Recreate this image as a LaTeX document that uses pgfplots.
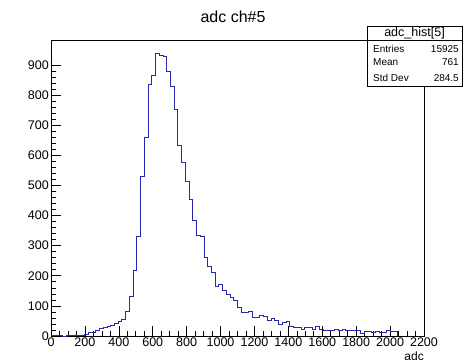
\documentclass[border=0pt]{standalone}
\usepackage{fontspec}
\setmainfont{Liberation Sans}
\usepackage{pgfplots}
\usepackage{pgfplotstable}
\pgfplotsset{compat=1.18}
\definecolor{histblue}{RGB}{40,40,180}
\pgfplotstableread{
x y
0 1
22 2
44 1
66 0
88 2
110 1
132 3
154 2
176 3
198 5
220 11
242 12
264 20
286 26
308 29
330 31
352 34
374 42
396 48
418 55
440 81
462 133
484 219
506 330
528 531
550 659
572 834
594 867
616 939
638 933
660 930
682 878
704 830
726 754
748 632
770 576
792 513
814 454
836 383
858 335
880 330
902 261
924 230
946 211
968 164
990 173
1012 151
1034 139
1056 128
1078 117
1100 95
1122 80
1144 78
1166 82
1188 62
1210 62
1232 70
1254 66
1276 53
1298 57
1320 51
1342 37
1364 45
1386 49
1408 31
1430 29
1452 29
1474 23
1496 29
1518 29
1540 23
1562 33
1584 22
1606 18
1628 20
1650 19
1672 21
1694 18
1716 22
1738 18
1760 20
1782 20
1804 19
1826 9
1848 14
1870 16
1892 12
1914 16
1936 11
1958 13
1980 19
2002 16
2024 16
2046 0
}\histdata
\begin{document}
\begin{tikzpicture}[x=1pt,y=1pt]
\path[use as bounding box] (0,0) rectangle (466,362);
\begin{axis}[
  at={(51pt,26pt)}, anchor=south west,
  width=373pt, height=296pt, scale only axis,
  xmin=0, xmax=2200, ymin=0, ymax=983,
  xtick={0,200,...,2200}, ytick={0,100,...,900},
  minor x tick num=3, minor y tick num=4,
  tick align=inside, tick pos=left,
  major tick length=10pt, minor tick length=5pt,
  tick style={black, line width=0.6pt},
  axis line style={black, line width=0.7pt},
  /pgf/number format/assume math mode=true,
  /pgf/number format/1000 sep={},
  ticklabel style={font=\fontsize{12.5}{14}\selectfont},
  xticklabel style={inner sep=2pt},
  yticklabel style={inner sep=2pt},
]
\addplot[histblue, line width=0.8pt, const plot mark left, mark=none] table[x=x,y=y] {\histdata};
\end{axis}
\node[font=\fontsize{16}{19}\selectfont] at (233,345) {adc ch\#5};
\node[font=\fontsize{12}{14}\selectfont, anchor=base east, inner sep=0pt] at (424,2) {adc};
% stats box
\draw[black, line width=0.7pt, fill=white] (367,276) rectangle (462,336);
\draw[black, line width=0.7pt] (367,322) -- (462,322);
\node[font=\fontsize{12.5}{14}\selectfont] at (414.5,329) {adc\_hist[5]};
\node[font=\fontsize{10}{12}\selectfont, anchor=west, inner sep=0pt] at (373,313.3) {Entries};
\node[font=\fontsize{10}{12}\selectfont, anchor=west, inner sep=0pt] at (373,299.7) {Mean};
\node[font=\fontsize{10}{12}\selectfont, anchor=west, inner sep=0pt] at (373,284.3) {Std Dev};
\node[font=\fontsize{10}{12}\selectfont, anchor=east, inner sep=0pt] at (459,313.3) {15925};
\node[font=\fontsize{10}{12}\selectfont, anchor=east, inner sep=0pt] at (459,299.7) {761};
\node[font=\fontsize{10}{12}\selectfont, anchor=east, inner sep=0pt] at (459,284.3) {284.5};
\end{tikzpicture}
\end{document}
